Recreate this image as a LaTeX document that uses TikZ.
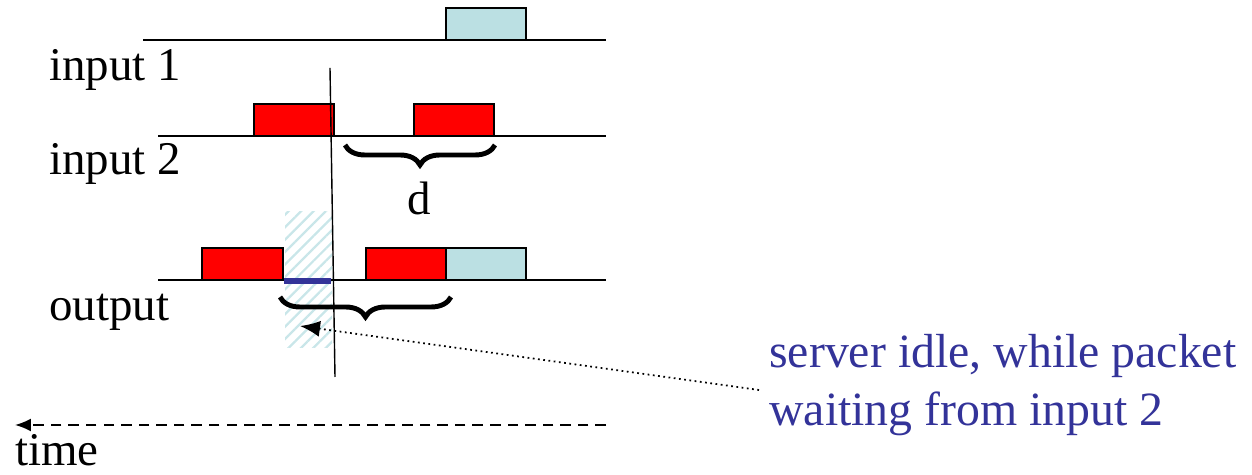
\documentclass[tikz,border=0pt]{standalone}
\usepackage{fontspec}
\setmainfont{Liberation Serif}
\usetikzlibrary{decorations.pathreplacing,patterns.meta,arrows.meta}
\definecolor{pktred}{HTML}{FF0000}
\definecolor{pktcyan}{HTML}{BBE0E3}
\definecolor{idleblue}{HTML}{333399}
\begin{document}
\begin{tikzpicture}[x=0.02cm,y=-0.02cm,
  axis/.style={line width=1.4pt},
  pkt/.style={draw=black,line width=1.2pt},
  lbl/.style={inner sep=0pt,anchor=base west,font=\fontsize{26.7}{30}\selectfont},
  notetext/.style={lbl,text=idleblue,font=\fontsize{27.2}{30}\selectfont},
  bracket/.style={decorate,decoration={brace,mirror,amplitude=0.4cm},line width=2.8pt}]
\useasboundingbox (0,0) rectangle (1252,475);

% idle interval on the output link
\path[pattern={Lines[angle=45,distance=5pt,line width=1.3pt]},pattern color=pktcyan!80]
  (285,212) rectangle (332,348);

% time axes
\draw[axis] (143,40) coordinate (i1a) -- (606,40) coordinate (i1b);
\draw[axis] (158,136) coordinate (i2a) -- (606,136) coordinate (i2b);
\draw[axis] (158,280) coordinate (oa) -- (606,280) coordinate (ob);

% packets
\draw[pkt,fill=pktcyan] (446,8) rectangle (526,40);
\draw[pkt,fill=pktred] (254,104) rectangle (334,136);
\draw[pkt,fill=pktred] (414,104) rectangle (494,136);
\draw[pkt,fill=pktred] (202,248) rectangle (283,280);
\draw[pkt,fill=pktred] (366,248) rectangle (446,280);
\draw[pkt,fill=pktcyan] (446,248) rectangle (526,280);

% server idle segment
\draw[idleblue,line width=3.2pt] (284,281) -- (331,281);

% current instant
\draw[line width=0.8pt] (330,68) coordinate (nowtop) -- (335,377) coordinate (nowbot);

% braces
\draw[bracket] (345,145) coordinate (b1a) -- (495,145) coordinate (b1b);
\draw[bracket] (280,297) coordinate (b2a) -- (451,297) coordinate (b2b);

% labels
\node[lbl] (in1) at (49,81) {input 1};
\node[lbl] (in2) at (49,175) {input 2};
\node[lbl] (outl) at (49,321) {output};
\node[lbl,anchor=base] (dl) at (419,215) {d};
\node[lbl] (timel) at (15,466) {time};
\node[notetext] (note1) at (769,368) {server idle, while packet};
\node[notetext] (note2) at (769,426) {waiting from input 2};

% pointer to idle interval
\coordinate (ptrend) at (759,390);
\coordinate (ptrtip) at (300,326);
\draw[dotted,line width=1pt,-{Latex[length=0.4cm,width=0.32cm]}] (ptrend) -- (ptrtip);

% time direction
\coordinate (tstart) at (606,425);
\coordinate (tend) at (15,425);
\draw[dashed,line width=1pt,dash pattern=on 6pt off 4pt,-{Latex[length=0.32cm,width=0.26cm]}] (tstart) -- (tend);
\end{tikzpicture}
\end{document}
